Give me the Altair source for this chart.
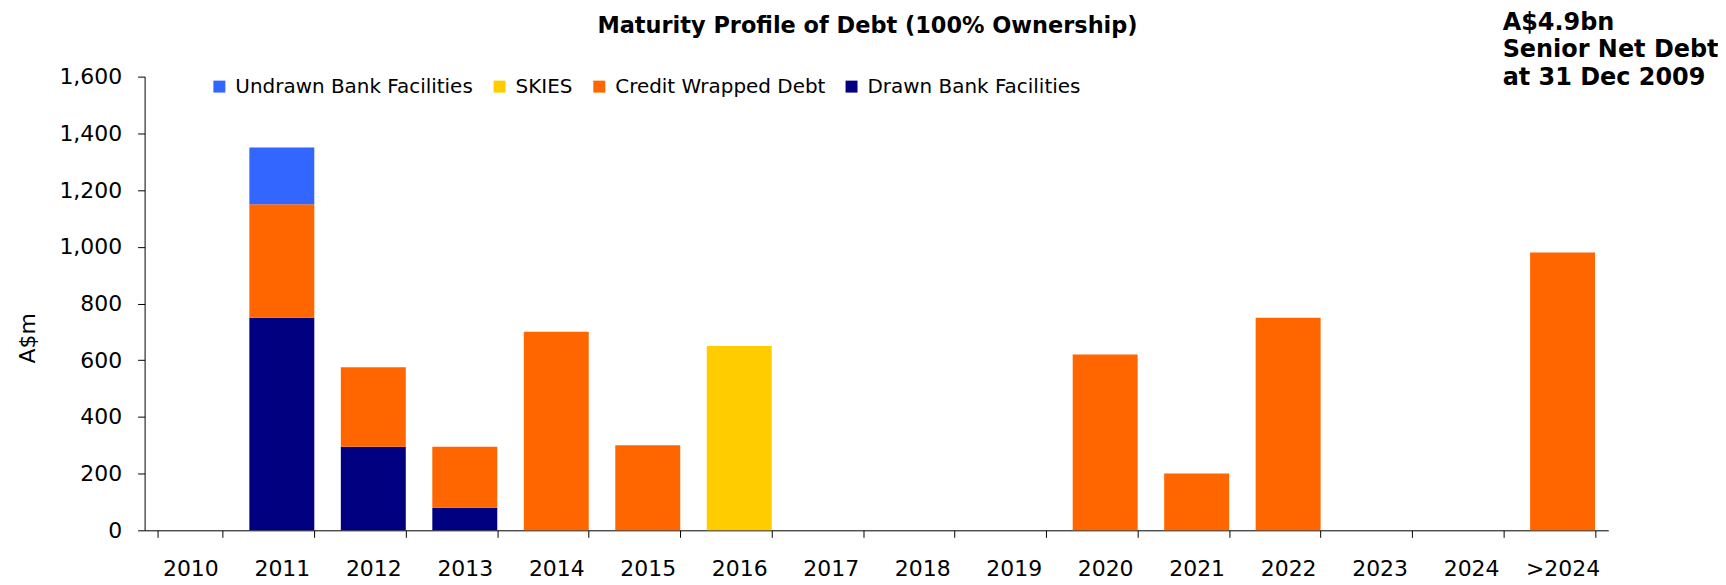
import altair as alt
import pandas as pd

years = ["2010", "2011", "2012", "2013", "2014", "2015", "2016", "2017",
         "2018", "2019", "2020", "2021", "2022", "2023", "2024", ">2024"]
drawn_bank = [0, 750, 295, 80, 0, 0, 0, 0, 0, 0, 0, 0, 0, 0, 0, 0]
credit_wrapped = [0, 400, 280, 215, 700, 300, 0, 0, 0, 0, 620, 200, 750, 0, 0, 980]
skies = [0, 0, 0, 0, 0, 0, 650, 0, 0, 0, 0, 0, 0, 0, 0, 0]
undrawn_bank = [0, 200, 0, 0, 0, 0, 0, 0, 0, 0, 0, 0, 0, 0, 0, 0]

series_names = ["Undrawn Bank Facilities", "SKIES", "Credit Wrapped Debt", "Drawn Bank Facilities"]
series_colors = ["#3366FF", "#FFCC00", "#FF6600", "#000080"]
y_ticks = [0, 200, 400, 600, 800, 1000, 1200, 1400, 1600]

title_text = "Maturity Profile of Debt (100% Ownership)"
note_text = "A$4.9bn\nSenior Net Debt\nat 31 Dec 2009"

rows = []
for name, vals, rank in [("Drawn Bank Facilities", drawn_bank, 0),
                         ("Credit Wrapped Debt", credit_wrapped, 1),
                         ("SKIES", skies, 2),
                         ("Undrawn Bank Facilities", undrawn_bank, 3)]:
    for yr, v in zip(years, vals):
        rows.append({"year": yr, "series": name, "value": v, "rank": rank})
df = pd.DataFrame(rows)

W, H = 1468, 455

bars = alt.Chart(df).mark_bar().encode(
    x=alt.X("year:N", sort=years,
            scale=alt.Scale(paddingInner=0.29, paddingOuter=0.145),
            axis=alt.Axis(title=None, labelAngle=0, tickBand="extent", tickSize=7,
                          tickColor="#000000", domainColor="#000000",
                          labelFont="DejaVu Sans", labelFontSize=22,
                          labelColor="#000000", labelPadding=21, grid=False)),
    y=alt.Y("value:Q", stack="zero",
            scale=alt.Scale(domain=[0, 1600], nice=False),
            axis=alt.Axis(title="A$m", values=y_ticks, format=",.0f", tickSize=7,
                          tickColor="#000000", domainColor="#000000",
                          labelFont="DejaVu Sans", labelFontSize=22,
                          labelColor="#000000", labelPadding=16, grid=False,
                          titleFont="DejaVu Sans", titleFontSize=22,
                          titleFontWeight="normal", titleColor="#000000",
                          titleAngle=-90, titleX=-117, titleY=262,
                          titleAlign="center", titleBaseline="middle")),
    color=alt.Color("series:N",
                    scale=alt.Scale(domain=series_names, range=series_colors),
                    legend=alt.Legend(title=None, orient="none", legendX=65, legendY=0,
                                      direction="horizontal", columns=4,
                                      symbolType="square", symbolSize=144,
                                      symbolStrokeWidth=0, labelOffset=6,
                                      columnPadding=16, padding=0,
                                      labelFont="DejaVu Sans", labelFontSize=20,
                                      labelColor="#000000", labelLimit=400)),
    order=alt.Order("rank:Q", sort="ascending"),
)

title = alt.Chart(pd.DataFrame({"t": [title_text]})).mark_text(
    font="DejaVu Sans", fontSize=22.5, fontWeight="bold", color="#000000",
    align="center", baseline="middle"
).encode(text="t:N", x=alt.value(725), y=alt.value(-51))

note = alt.Chart(pd.DataFrame({"t": [note_text]})).mark_text(
    font="DejaVu Sans", fontSize=24, fontWeight="bold", color="#000000",
    align="left", baseline="top", lineBreak="\n", lineHeight=27.5
).encode(text="t:N", x=alt.value(1362), y=alt.value(-66))

chart = alt.layer(bars, title, note).properties(
    width=W, height=H,
    autosize=alt.AutoSizeParams(type="none"),
    padding={"left": 137, "top": 68, "right": 110, "bottom": 50},
    background="#ffffff",
).configure_view(stroke=None)

chart.save("out.html", embed_options={"renderer": "svg", "actions": False})
